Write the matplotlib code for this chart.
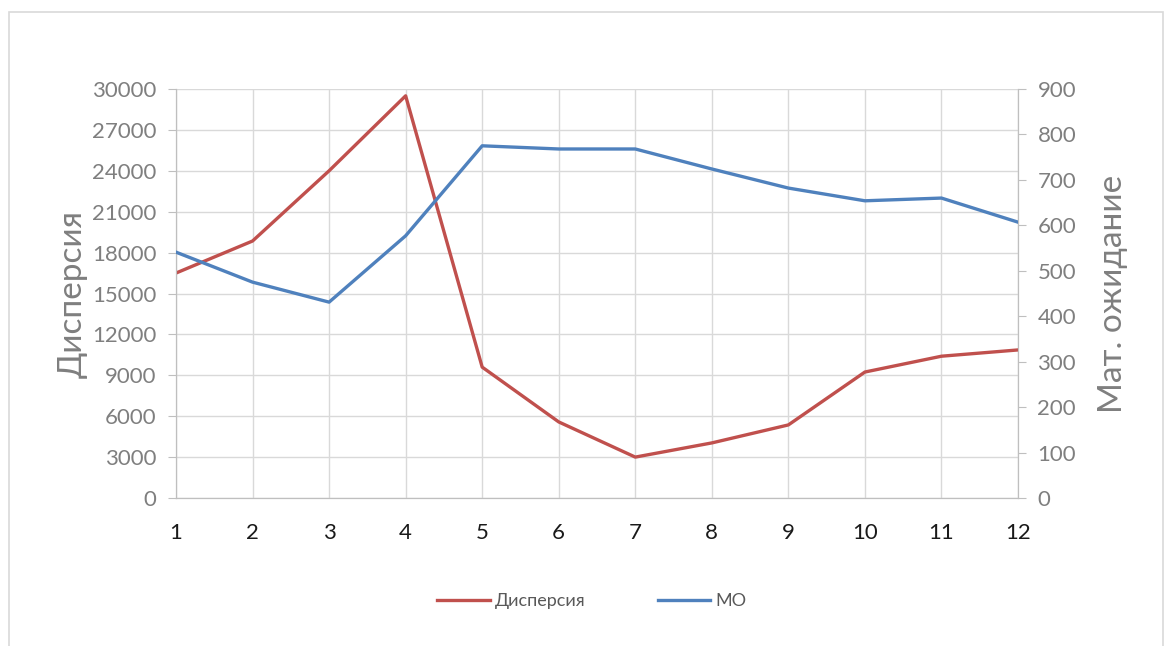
import matplotlib.pyplot as plt
from matplotlib.patches import Rectangle

plt.rcParams['font.family'] = ['Lato', 'DejaVu Sans']

# monthly data
months = [1, 2, 3, 4, 5, 6, 7, 8, 9, 10, 11, 12]
dispersion = [16500, 18850, 24000, 29500, 9600, 5580, 3000, 4040, 5360, 9240, 10400, 10860]
mo = [541, 475, 431, 577, 775, 768, 768, 724, 682, 654, 660, 607]

RED = '#C0504D'
BLUE = '#4F81BD'
GRID = '#d9d9d9'
SPINE = '#bfbfbf'
LABEL = '#7f7f7f'


def main():
    fig = plt.figure(figsize=(11.74, 6.46), dpi=100)
    fig.patches.append(Rectangle((9 / 1174, -0.01), (1163 - 9) / 1174, 1.01 - 12 / 646,
                                 transform=fig.transFigure, fill=False,
                                 edgecolor=GRID, linewidth=1.2))

    ax = fig.add_axes([176 / 1174, 1 - 498 / 646, (1018 - 176) / 1174, (498 - 89) / 646])
    ax2 = ax.twinx()

    l1, = ax.plot(months, dispersion, color=RED, linewidth=2.4, label='Дисперсия', zorder=3)
    l2, = ax2.plot(months, mo, color=BLUE, linewidth=2.4, label='МО', zorder=3)

    ax.set_xlim(1, 12)
    ax.set_ylim(0, 30000)
    ax.set_xticks(months)
    ax.set_yticks(range(0, 30001, 3000))
    ax2.set_ylim(0, 900)
    ax2.set_yticks(range(0, 901, 100))

    ax.grid(True, color=GRID, linewidth=1.0)
    ax.set_axisbelow(True)

    for a in (ax, ax2):
        a.spines['top'].set_visible(False)
        for side in ('left', 'right', 'bottom'):
            a.spines[side].set_color(SPINE)
    ax.tick_params(axis='y', length=6, color=SPINE, labelcolor=LABEL, labelsize=16, pad=8)
    ax.tick_params(axis='x', length=0, labelcolor='#1a1a1a', labelsize=16, pad=18)
    ax2.tick_params(axis='y', length=6, color=SPINE, labelcolor=LABEL, labelsize=16, pad=8)

    ax.set_ylabel('Дисперсия', fontsize=24, color=LABEL, labelpad=3)
    ax2.set_ylabel('Мат. ожидание', fontsize=24, color=LABEL, rotation=90, labelpad=16)

    fig.legend(handles=[l1, l2], loc='center', bbox_to_anchor=(592 / 1174, 1 - 601 / 646),
               ncol=2, frameon=False, fontsize=13, labelcolor='#595959',
               handlelength=2.9, columnspacing=4.0, handletextpad=0.3)

    fig.savefig('out.png', dpi=100)


if __name__ == '__main__':
    main()
